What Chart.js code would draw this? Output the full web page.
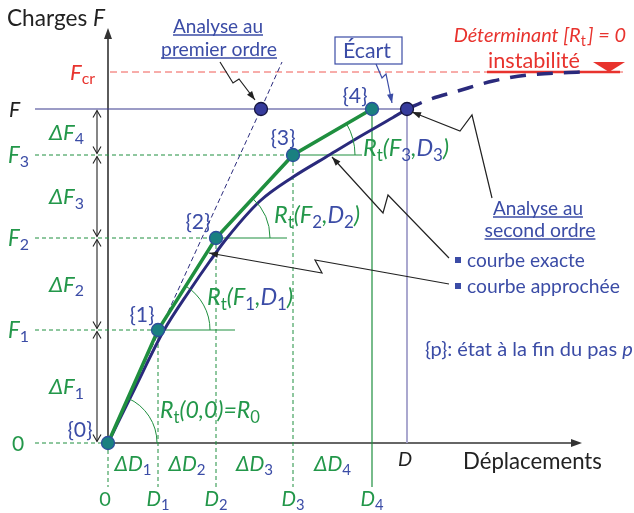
<!DOCTYPE html>
<html>
<head>
<meta charset="utf-8">
<script src="https://cdn.jsdelivr.net/npm/chart.js@4.4.1/dist/chart.umd.min.js"></script>
<style>
  html, body { margin: 0; padding: 0; background: #fff; }
  canvas { display: block; }
</style>
</head>
<body>
<canvas id="stepChart" width="634" height="513"></canvas>
<script>
// incremental steps {0}..{4}: displacement D_i and load F_i
const stepLabels = ['{0}', '{1}', '{2}', '{3}', '{4}'];
const stepD = [0, 50, 108, 185, 264];
const stepF = [0, 113, 205, 288, 334];

// exact curve (second order) up to the final state
const exactD = [0, 27, 55, 82, 102, 119, 152, 185, 218, 252, 285, 299];
const exactF = [0, 55, 111, 153, 182, 205, 242, 266, 286, 306.5, 325.5, 334];
// continuation of the exact curve towards instability
const beyondD = [299, 320, 350, 385, 420, 472];
const beyondF = [334, 343, 352, 362, 368, 371];

// first order analysis (linear, slope R0)
const firstOrderD = [0, 153, 174];
const firstOrderF = [0, 334, 381];

const finalD = 299;
const finalF = 334;
const criticalF = 371;

const xMin = -108, xMax = 526, yMin = -70, yMax = 443;
const leftEdge = -73;     // where the horizontal guides start
const bottomEdge = -44;   // where the vertical guides stop

const GREEN = '#1f8f3f';
const GTEXT = '#23974a';
const BLUE = '#3b4ca6';
const NAVY = '#2a2a7c';
const RED = '#e8332e';
const INK = '#222';
const FONT = 'Lato, "Open Sans", sans-serif';

function pts(xs, ys) {
    return xs.map((x, i) => ({ x: x, y: ys[i] }));
}

const datasets = [];
function add(ds) {
    ds.order = -datasets.length;
    datasets.push(Object.assign({ showLine: true, pointRadius: 0, fill: false, tension: 0 }, ds));
}

// axes
add({ data: [{ x: 0, y: 0 }, { x: 470, y: 0 }], borderColor: '#333', borderWidth: 1.6 });
add({ data: [{ x: 0, y: 0 }, { x: 0, y: 412 }], borderColor: '#333', borderWidth: 1.6 });

// critical load and instability marker
add({ data: [{ x: 2, y: criticalF }, { x: 517, y: criticalF }], borderColor: '#f05a55', borderWidth: 1, borderDash: [7, 4] });
add({ data: [{ x: 379, y: criticalF }, { x: 512, y: criticalF }], borderColor: RED, borderWidth: 2.5 });

// final load F
add({ data: [{ x: leftEdge, y: finalF }, { x: finalD, y: finalF }], borderColor: '#3a3a8e', borderWidth: 1.2 });

// guides for each step
const tangentLen = [0, 77, 71, 69];
for (let i = 0; i < 4; i++) {
    add({ data: [{ x: leftEdge, y: stepF[i] }, { x: stepD[i], y: stepF[i] }], borderColor: GREEN, borderWidth: 1, borderDash: [4, 3] });
    add({ data: [{ x: stepD[i], y: stepF[i] }, { x: stepD[i], y: bottomEdge }], borderColor: GREEN, borderWidth: 1, borderDash: [4, 3] });
    if (tangentLen[i]) {
        add({ data: [{ x: stepD[i], y: stepF[i] }, { x: stepD[i] + tangentLen[i], y: stepF[i] }], borderColor: GREEN, borderWidth: 1 });
    }
}
add({ data: [{ x: stepD[4], y: stepF[4] }, { x: stepD[4], y: bottomEdge }], borderColor: GREEN, borderWidth: 1.2 });
add({ data: [{ x: finalD, y: finalF }, { x: finalD, y: 0 }], borderColor: '#a29fca', borderWidth: 1.8 });

// first order line
add({ data: pts(firstOrderD, firstOrderF), borderColor: NAVY, borderWidth: 1, borderDash: [5, 3] });

// exact curve
add({ data: pts(exactD, exactF), borderColor: NAVY, borderWidth: 3, cubicInterpolationMode: 'monotone' });
add({ data: pts(beyondD, beyondF), borderColor: NAVY, borderWidth: 3.5, borderDash: [16, 11], cubicInterpolationMode: 'monotone' });

// approximate (incremental) curve
add({ data: pts(stepD, stepF), borderColor: GREEN, borderWidth: 3.5 });

// points
add({ data: [{ x: firstOrderD[1], y: firstOrderF[1] }, { x: finalD, y: finalF }], showLine: false,
      pointRadius: 6.5, pointBackgroundColor: '#363b9c', pointBorderColor: '#15153f', pointBorderWidth: 1.3 });
add({ data: pts(stepD, stepF), showLine: false,
      pointRadius: 6.5, pointBackgroundColor: '#1a8080', pointBorderColor: '#2c4f9c', pointBorderWidth: 1.3 });

// ---------- text helpers ----------
function font(size, italic) {
    return (italic ? 'italic ' : '') + size + 'px ' + FONT;
}

// draws mixed text; if fitW is given the size is scaled so the whole run is fitW wide
function rich(ctx, x, yc, size, parts, align, fitW) {
    const measure = sz => {
        let w = 0;
        parts.forEach(p => {
            ctx.font = font(p.s ? sz * 0.72 : sz, p.i);
            p.w = ctx.measureText(p.t).width + (p.k || 0);
            w += p.w;
        });
        return w;
    };
    let w = measure(size);
    if (fitW) {
        size = size * fitW / w;
        w = measure(size);
    }
    let cx = align === 'center' ? x - w / 2 : align === 'right' ? x - w : x;
    const base = yc + size * 0.36;
    ctx.textBaseline = 'alphabetic';
    ctx.textAlign = 'left';
    parts.forEach(p => {
        ctx.font = font(p.s ? size * 0.72 : size, p.i);
        ctx.fillStyle = p.c;
        ctx.fillText(p.t, cx, p.s ? base + size * 0.2 : base);
        cx += p.w;
    });
    return w;
}

function underlined(ctx, x, yc, size, text, color, fitW) {
    const w = rich(ctx, x, yc, size, [{ t: text, c: color }], 'center', fitW);
    ctx.strokeStyle = color;
    ctx.lineWidth = 1.5;
    ctx.beginPath();
    ctx.moveTo(x - w / 2, yc + 9);
    ctx.lineTo(x + w / 2, yc + 9);
    ctx.stroke();
}

function head(ctx, from, to, len, half, filled) {
    const a = Math.atan2(to[1] - from[1], to[0] - from[0]);
    const bx = to[0] - len * Math.cos(a), by = to[1] - len * Math.sin(a);
    const nx = -Math.sin(a) * half, ny = Math.cos(a) * half;
    ctx.beginPath();
    if (filled) {
        ctx.moveTo(to[0], to[1]);
        ctx.lineTo(bx + nx, by + ny);
        ctx.lineTo(bx - nx, by - ny);
        ctx.closePath();
        ctx.fill();
    } else {
        ctx.moveTo(bx + nx, by + ny);
        ctx.lineTo(to[0], to[1]);
        ctx.lineTo(bx - nx, by - ny);
        ctx.stroke();
    }
}

function callout(ctx, path, color) {
    ctx.strokeStyle = color;
    ctx.fillStyle = color;
    ctx.lineWidth = 1.2;
    ctx.beginPath();
    path.forEach((p, i) => i ? ctx.lineTo(p[0], p[1]) : ctx.moveTo(p[0], p[1]));
    ctx.stroke();
    head(ctx, path[path.length - 2], path[path.length - 1], 9, 3.2, true);
}

const overlay = {
    id: 'overlay',
    afterDatasetsDraw(chart) {
        const ctx = chart.ctx;
        const sx = chart.scales.x, sy = chart.scales.y;
        const X = v => sx.getPixelForValue(v);
        const Y = v => sy.getPixelForValue(v);
        ctx.save();

        // axis arrow heads
        ctx.fillStyle = '#333';
        head(ctx, [X(0), Y(400)], [X(0), Y(415)], 11, 4, true);
        head(ctx, [X(460), Y(0)], [X(474), Y(0)], 11, 4, true);

        // angle arcs (tangent stiffness)
        const arcR = [49, 52, 54, 62];
        ctx.strokeStyle = GREEN;
        ctx.lineWidth = 1;
        for (let i = 0; i < 4; i++) {
            const cx = X(stepD[i]), cy = Y(stepF[i]);
            const a = Math.atan2(Y(stepF[i + 1]) - cy, X(stepD[i + 1]) - cx);
            ctx.beginPath();
            ctx.arc(cx, cy, arcR[i], 0, a, true);
            ctx.stroke();
        }

        // delta F arrows
        ctx.strokeStyle = INK;
        ctx.lineWidth = 1.1;
        const ax = 97;
        for (let i = 0; i < 4; i++) {
            const y0 = Y(stepF[i]) - 1.5, y1 = Y(stepF[i + 1]) + 1.5;
            ctx.beginPath();
            ctx.moveTo(ax, y0);
            ctx.lineTo(ax, y1);
            ctx.stroke();
            head(ctx, [ax, y1 + 5], [ax, y1], 7, 4, false);
            head(ctx, [ax, y0 - 5], [ax, y0], 7, 4, false);
        }

        // axis titles
        rich(ctx, 7, 18, 19, [{ t: 'Charges ', c: INK }, { t: 'F', c: INK, i: true }], 'left', 98);
        rich(ctx, 463, 461, 18, [{ t: 'Déplacements', c: INK }], 'left', 139);

        // load labels
        rich(ctx, 70, Y(criticalF), 19, [{ t: 'F', c: RED, i: true }, { t: 'cr', c: RED, s: true }], 'left', 25);
        rich(ctx, 9, Y(finalF), 21, [{ t: 'F', c: INK, i: true }]);
        for (let i = 1; i < 4; i++) {
            rich(ctx, 8, Y(stepF[i]), 19, [{ t: 'F', c: GTEXT, i: true }, { t: String(i), c: BLUE, s: true }], 'left', 21);
        }
        rich(ctx, 12, Y(0), 21, [{ t: '0', c: GTEXT }]);
        for (let i = 0; i < 4; i++) {
            const yc = (Y(stepF[i]) + Y(stepF[i + 1])) / 2;
            rich(ctx, 49, yc, 19, [{ t: 'ΔF', c: GTEXT, i: true }, { t: String(i + 1), c: BLUE, s: true }], 'left', 35);
        }

        // displacement labels
        for (let i = 0; i < 4; i++) {
            const xc = (X(stepD[i]) + X(stepD[i + 1])) / 2;
            rich(ctx, xc, 463, 18, [{ t: 'ΔD', c: GTEXT, i: true }, { t: String(i + 1), c: BLUE, s: true }], 'center', 37);
        }
        rich(ctx, X(0) - 3, 499, 20, [{ t: '0', c: GTEXT }], 'center');
        for (let i = 1; i < 5; i++) {
            rich(ctx, X(stepD[i]), 499, 18, [{ t: 'D', c: GTEXT, i: true }, { t: String(i), c: BLUE, s: true }], 'center', 23);
        }
        rich(ctx, X(finalD) - 2, 459, 20, [{ t: 'D', c: INK, i: true }], 'center');

        // step labels
        const labelPos = [[80, 429], [142, 314], [198, 221], [283, 137], [355, 95]];
        stepLabels.forEach((s, i) => rich(ctx, labelPos[i][0], labelPos[i][1], 17, [{ t: s, c: BLUE }], 'center', 25));

        // tangent stiffness labels
        rich(ctx, 160, 410, 17, [{ t: 'R', c: GTEXT, i: true }, { t: 't', c: GTEXT, s: true }, { t: '(0,0)=', c: GTEXT, i: true }, { t: 'R', c: GTEXT, i: true }, { t: '0', c: GTEXT, s: true }], 'left', 100);
        const rtPos = [null, [207, 297], [274, 215], [363, 148]];
        for (let i = 1; i < 4; i++) {
            rich(ctx, rtPos[i][0], rtPos[i][1], 17, [
                { t: 'R', c: GTEXT, i: true }, { t: 't', c: GTEXT, s: true }, { t: '(F', c: GTEXT, i: true },
                { t: String(i), c: BLUE, s: true }, { t: ',', c: GTEXT, i: true }, { t: 'D', c: BLUE, i: true },
                { t: String(i), c: BLUE, s: true }, { t: ')', c: GTEXT, i: true }], 'left', 86);
        }

        // first order annotation
        underlined(ctx, 218, 26, 16, 'Analyse au', BLUE, 90);
        underlined(ctx, 219, 49, 16, 'premier ordre', BLUE, 116);
        callout(ctx, [[220, 62], [233, 83], [239, 79], [255, 100]], INK);

        // Ecart box
        ctx.strokeStyle = BLUE;
        ctx.lineWidth = 1.2;
        ctx.strokeRect(335, 37, 67, 27);
        rich(ctx, 367, 50, 18, [{ t: 'Écart', c: BLUE }], 'center', 48);
        callout(ctx, [[376, 64], [382, 78], [386, 74], [392, 103]], BLUE);

        // instability
        rich(ctx, 626, 35, 16, [{ t: 'Déterminant [', c: RED, i: true }, { t: 'R', c: RED, i: true },
            { t: 't', c: RED, s: true, k: 2 }, { t: '] = 0', c: RED, i: true }], 'right', 173);
        rich(ctx, 534, 60, 19, [{ t: 'instabilité', c: RED }], 'center', 92);
        ctx.fillStyle = RED;
        ctx.beginPath();
        ctx.moveTo(593, 62);
        ctx.lineTo(625, 62);
        ctx.lineTo(609, 72);
        ctx.closePath();
        ctx.fill();

        // second order annotation
        underlined(ctx, 538, 208, 16, 'Analyse au', BLUE, 90);
        underlined(ctx, 540, 230, 16, 'second ordre', BLUE, 111);
        callout(ctx, [[492, 198], [472, 115], [460, 131], [412, 112]], INK);

        ctx.fillStyle = BLUE;
        ctx.fillRect(455, 257, 6, 6);
        ctx.fillRect(455, 283, 6, 6);
        rich(ctx, 467, 260, 15.5, [{ t: 'courbe exacte', c: BLUE }], 'left', 118);
        rich(ctx, 467, 286, 15.5, [{ t: 'courbe approchée', c: BLUE }], 'left', 153);
        callout(ctx, [[449, 258], [388, 195], [383, 213], [332, 157]], INK);
        callout(ctx, [[449, 284], [315, 260], [322, 273], [209, 253]], INK);

        rich(ctx, 425, 349, 14.5, [{ t: '{p}: état à la fin du pas ', c: BLUE }, { t: 'p', c: BLUE, i: true }], 'left', 208);

        ctx.restore();
    }
};

new Chart(document.getElementById('stepChart').getContext('2d'), {
    type: 'scatter',
    data: { datasets: datasets },
    options: {
        responsive: false,
        animation: false,
        layout: { padding: 0, autoPadding: false },
        plugins: { legend: { display: false }, tooltip: { enabled: false } },
        scales: {
            x: { type: 'linear', min: xMin, max: xMax, display: false },
            y: { type: 'linear', min: yMin, max: yMax, display: false }
        }
    },
    plugins: [overlay]
});
</script>
</body>
</html>
